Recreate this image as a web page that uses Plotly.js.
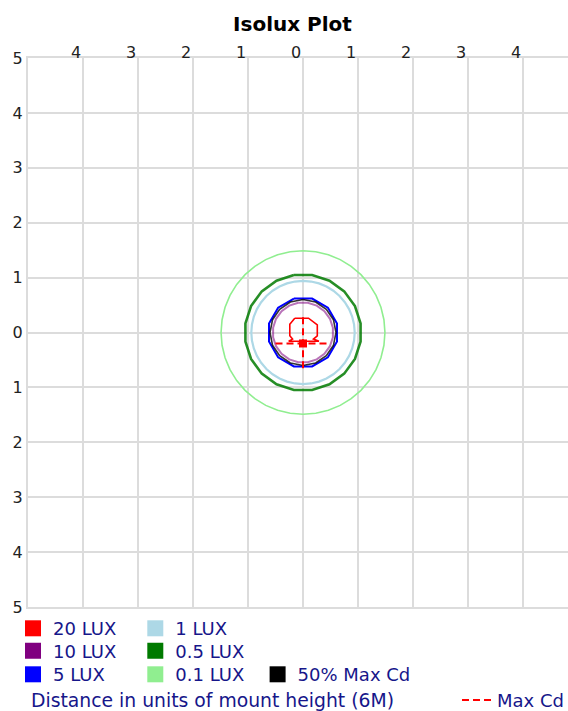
<!DOCTYPE html>
<html><head><meta charset="utf-8">
<script src="https://cdn.plot.ly/plotly-3.0.1.min.js"></script>
<style>html,body{margin:0;padding:0;overflow:hidden;background:#fff}#chart{width:580px;height:711px}</style>
</head><body><div id="chart"></div>
<script>
// ---- axis ticks (labels show absolute distance) ----
const xTickVals = [-4, -3, -2, -1, 0, 1, 2, 3, 4];
const xTickText = ['4', '3', '2', '1', '0', '1', '2', '3', '4'];
const yTickVals = [5, 4, 3, 2, 1, 0, -1, -2, -3, -4, -5];
const yTickText = ['5', '4', '3', '2', '1', '0', '1', '2', '3', '4', '5'];

// ---- isolux contours (approximately circular, radius in mount heights) ----
const ringNames  = ['0.1 LUX', '0.5 LUX', '1 LUX', '5 LUX', '50% Max Cd', '10 LUX'];
const ringRadius = [1.49, 1.06, 0.94, 0.64, 0.60, 0.55];

// ---- 20 LUX contour (small keyhole shape), vertices ----
const lux20X = [-0.15, 0.10, 0.26, 0.26, 0.19, 0.29, -0.26, -0.19, -0.24, -0.24, -0.15];
const lux20Y = [0.26, 0.26, 0.14, -0.06, -0.12, -0.16, -0.16, -0.12, -0.06, 0.15, 0.26];

// ---- max candela point and cross-hair ----
const maxCdX = [0];
const maxCdY = [-0.2];
const crossX = [-0.5, 0.5, null, 0, 0];
const crossY = [-0.2, -0.2, null, 0.28, -0.68];

// ---- legend rows ----
const legendRow1 = ['20 LUX', '1 LUX'];
const legendRow2 = ['10 LUX', '0.5 LUX'];
const legendRow3 = ['5 LUX', '0.1 LUX', '50% Max Cd'];

// ---- styles ----
const colorOf = {
  '20 LUX': '#ff0000', '10 LUX': '#800080', '5 LUX': '#0000ff',
  '1 LUX': '#add8e6', '0.5 LUX': '#007a00', '0.1 LUX': '#90ee90', '50% Max Cd': '#000000'
};
const ringStyle = {
  '0.1 LUX':    {width: 1.6, sides: 40, rot: 0,  opacity: 1},
  '0.5 LUX':    {width: 2.6, sides: 20, rot: 9,  opacity: 0.85},
  '1 LUX':      {width: 2.2, sides: 40, rot: 0,  opacity: 1},
  '5 LUX':      {width: 2.0, sides: 12, rot: 15, opacity: 1},
  '50% Max Cd': {width: 1.6, sides: 16, rot: 0,  opacity: 0.8},
  '10 LUX':     {width: 2.0, sides: 20, rot: 9,  opacity: 0.55}
};
const NAVY = '#16168a';
const FONT = 'DejaVu Sans';

function ringPath(r, sides, rotDeg) {
  const xs = [], ys = [];
  for (let i = 0; i <= sides; i++) {
    const a = (rotDeg + 90) * Math.PI / 180 + i * 2 * Math.PI / sides;
    xs.push(r * Math.cos(a));
    ys.push(r * Math.sin(a));
  }
  return {xs, ys};
}

const traces = [];
ringNames.forEach((name, i) => {
  const st = ringStyle[name];
  const p = ringPath(ringRadius[i], st.sides, st.rot);
  traces.push({
    type: 'scatter', mode: 'lines', x: p.xs, y: p.ys, name: name,
    line: {color: colorOf[name], width: st.width}, opacity: st.opacity,
    showlegend: false, hoverinfo: 'skip'
  });
});
traces.push({
  type: 'scatter', mode: 'lines', x: lux20X, y: lux20Y, name: '20 LUX',
  line: {color: colorOf['20 LUX'], width: 1.6}, showlegend: false, hoverinfo: 'skip'
});
traces.push({
  type: 'scatter', mode: 'lines', x: crossX, y: crossY, name: 'Max Cd',
  line: {color: '#ff0000', width: 2, dash: '7px,4px'},
  legend: 'legend4', legendwidth: 120, showlegend: true, hoverinfo: 'skip'
});
traces.push({
  type: 'scatter', mode: 'markers', x: maxCdX, y: maxCdY, name: 'max point', xaxis: 'x2',
  marker: {symbol: 'square', size: 8, color: '#ff0000'}, showlegend: false, hoverinfo: 'skip'
});

// legend swatches
[[legendRow1, 'legend'], [legendRow2, 'legend2'], [legendRow3, 'legend3']].forEach(([row, lg]) => {
  row.forEach((name, j) => {
    const t = {
      type: 'scatter', mode: 'markers', x: [null], y: [null], name: name, legend: lg,
      marker: {symbol: 'square', size: 16, color: colorOf[name], line: {width: 0}},
      showlegend: true, hoverinfo: 'skip'
    };
    if (j === row.length - 1) t.legendwidth = 140;
    traces.push(t);
  });
});

const legendBase = {
  orientation: 'h', xanchor: 'left', yanchor: 'top', entrywidth: 77.3, entrywidthmode: 'pixels',
  font: {family: FONT, size: 18, color: NAVY}, bgcolor: 'rgba(0,0,0,0)', borderwidth: 0,
  traceorder: 'normal', itemclick: false, itemdoubleclick: false
};

const axisBase = {
  range: [-5, 5], showgrid: true, gridcolor: '#dcdcdc', gridwidth: 2, zeroline: false,
  showline: true, linecolor: '#dcdcdc', linewidth: 2, mirror: true, ticks: '',
  tickfont: {family: FONT, size: 16, color: '#222'}, fixedrange: true, tickmode: 'array'
};

const layout = {
  width: 580, height: 711,
  margin: {l: 28, r: 2, t: 58, b: 104, autoexpand: false},
  paper_bgcolor: '#ffffff', plot_bgcolor: '#ffffff',
  font: {family: FONT, size: 16, color: '#222'},
  title: {text: 'Isolux Plot', font: {family: FONT, size: 20, weight: 'bold', color: '#000'},
          xref: 'paper', x: 0.4809, xanchor: 'center', yref: 'container', y: 0.9662, yanchor: 'middle'},
  xaxis: Object.assign({}, axisBase, {side: 'top', tickvals: xTickVals, showticklabels: false}),
  xaxis2: {
    range: [-5, 5], overlaying: 'x', side: 'top', anchor: 'free', position: 0.9945,
    tickmode: 'array', tickvals: xTickVals, ticktext: xTickText, ticklabelshift: -7,
    showgrid: false, zeroline: false, showline: false, ticks: '', fixedrange: true,
    tickfont: {family: FONT, size: 16, color: '#222'}
  },
  yaxis: Object.assign({}, axisBase, {tickvals: yTickVals, ticktext: yTickText}),
  showlegend: true,
  legend:  Object.assign({}, legendBase, {x: -0.02727, y: -0.00565}),
  legend2: Object.assign({}, legendBase, {x: -0.02727, y: -0.04663}),
  legend3: Object.assign({}, legendBase, {x: -0.02727, y: -0.08944}),
  legend4: Object.assign({}, legendBase, {x: 0.7800, y: -0.13625}),
  annotations: [{
    text: 'Distance in units of mount height (6M)', xref: 'paper', yref: 'paper',
    x: 0.0027, y: -0.1694, xanchor: 'left', yanchor: 'middle', showarrow: false,
    font: {family: FONT, size: 18.8, color: NAVY}
  }]
};

Plotly.newPlot('chart', traces, layout, {displayModeBar: false, staticPlot: true});
</script>
</body></html>
